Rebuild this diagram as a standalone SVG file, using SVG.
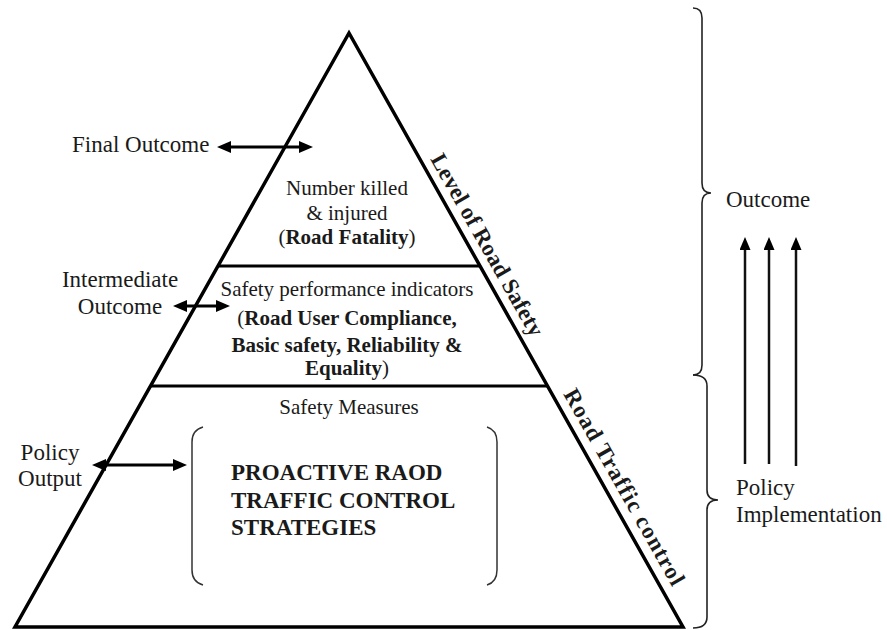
<svg xmlns="http://www.w3.org/2000/svg" width="887" height="630" viewBox="0 0 887 630">
<defs>
<style>
text{font-family:"Liberation Serif","Times New Roman",serif;fill:#1a1a1a}
.lbl{font-size:23px}
.in{font-size:21px;text-anchor:middle}
.b{font-weight:bold}
.big{font-size:23px;font-weight:bold}
.rot{font-size:23px;font-weight:bold}
.edge{fill:none;stroke:#000;stroke-width:3.5;stroke-linejoin:miter}
.div{stroke:#000;stroke-width:3}
.conn{stroke:#000;stroke-width:3;fill:none}
.up{stroke:#111;stroke-width:2.5;fill:none}
.brace{fill:none;stroke:#222;stroke-width:1.6}
.brk{fill:none;stroke:#333;stroke-width:1.5}
</style>
<marker id="ah" viewBox="0 0 14 12" refX="9" refY="6" markerWidth="14" markerHeight="12" markerUnits="userSpaceOnUse" orient="auto-start-reverse">
<path d="M0,0 L14,6 L0,12 z" fill="#000"/>
</marker>
<marker id="ah2" viewBox="0 0 13 11" refX="8" refY="5.5" markerWidth="13" markerHeight="11" markerUnits="userSpaceOnUse" orient="auto">
<path d="M0,0 L13,5.5 L0,11 z" fill="#000"/>
</marker>
</defs>
<rect width="887" height="630" fill="#fff"/>

<g id="pyramid">
<polygon class="edge" points="349,33 15,627 683,627"/>
<line class="div" x1="217" y1="266" x2="481" y2="266"/>
<line class="div" x1="150" y1="386" x2="548" y2="386"/>
</g>

<g id="top-tier">
<text class="in" x="347" y="195">Number killed</text>
<text class="in" x="347" y="220">&amp; injured</text>
<text class="in" x="347" y="244">(<tspan class="b">Road Fatality</tspan>)</text>
</g>

<g id="middle-tier">
<text class="in" x="347" y="296">Safety performance indicators</text>
<text class="in" x="347" y="325">(<tspan class="b">Road User Compliance,</tspan></text>
<text class="in b" x="347" y="352">Basic safety, Reliability &amp;</text>
<text class="in" x="347" y="375"><tspan class="b">Equality</tspan>)</text>
</g>

<g id="bottom-tier">
<text class="in" x="349" y="414">Safety Measures</text>
<path class="brk" d="M203,427 Q192,430 192,442 L192,570 Q192,582 203,585"/>
<path class="brk" d="M487,427 Q497,430 497,442 L497,570 Q497,582 487,585"/>
<text class="big" x="231" y="480">PROACTIVE RAOD</text>
<text class="big" x="231" y="508">TRAFFIC CONTROL</text>
<text class="big" x="231" y="535">STRATEGIES</text>
</g>

<g id="label-final-outcome">
<text class="lbl" x="72" y="152">Final Outcome</text>
</g>
<g id="label-intermediate-outcome">
<text class="lbl" x="120" y="287" text-anchor="middle">Intermediate</text>
<text class="lbl" x="120" y="314" text-anchor="middle">Outcome</text>
</g>
<g id="label-policy-output">
<text class="lbl" x="50" y="460" text-anchor="middle">Policy</text>
<text class="lbl" x="50" y="486" text-anchor="middle">Output</text>
</g>

<g id="side-level-of-road-safety">
<text class="rot" transform="translate(430,159) rotate(60.5)" textLength="206" lengthAdjust="spacing">Level of Road Safety</text>
</g>
<g id="side-road-traffic-control">
<text class="rot" transform="translate(563,394) rotate(60.5)" textLength="222" lengthAdjust="spacing">Road Traffic control</text>
</g>

<g id="outcome-brace">
<path class="brace" d="M693,8 Q702,8 702,18 L702,183 Q702,193 711,193 Q702,193 702,203 L702,365 Q702,375 693,375"/>
<text class="lbl" x="726" y="207">Outcome</text>
</g>
<g id="policy-implementation-brace">
<path class="brace" d="M693,375 Q707,375 707,386 L707,490 Q707,500 718,500 Q707,500 707,510 L707,617 Q707,628 693,628"/>
<text class="lbl" x="736" y="495">Policy</text>
<text class="lbl" x="736" y="522">Implementation</text>
</g>

<g id="connectors">
<line class="conn" x1="222" y1="147" x2="308" y2="147" marker-start="url(#ah)" marker-end="url(#ah)"/>
<line class="conn" x1="178" y1="306" x2="225" y2="306" marker-start="url(#ah)" marker-end="url(#ah)"/>
<line class="conn" x1="97" y1="465" x2="182" y2="465" marker-start="url(#ah)" marker-end="url(#ah)"/>
<line class="up" x1="745" y1="464" x2="745" y2="242" marker-end="url(#ah2)"/>
<line class="up" x1="769" y1="464" x2="769" y2="242" marker-end="url(#ah2)"/>
<line class="up" x1="796" y1="466" x2="796" y2="242" marker-end="url(#ah2)"/>
</g>
</svg>
